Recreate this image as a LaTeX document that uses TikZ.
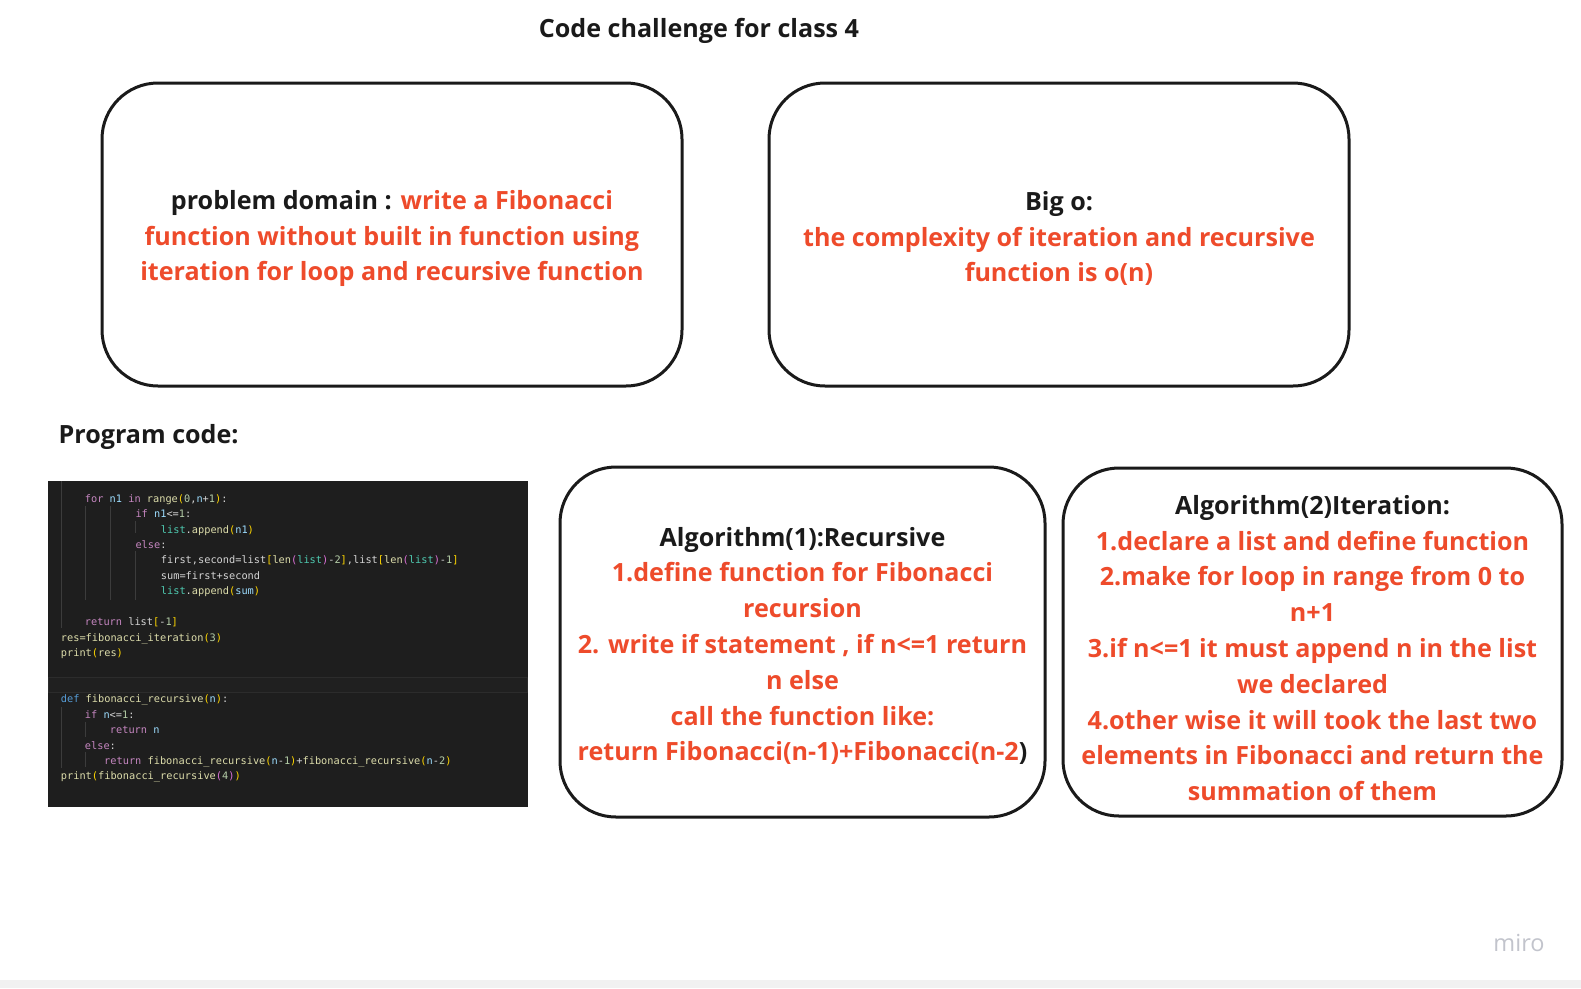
\documentclass[tikz,border=0pt]{standalone}
\usepackage{fontspec}
\usepackage{xcolor}
\usepackage{tikz}
\setmainfont{Open Sans}
\newfontfamily\codefont{DejaVu Sans Mono}
\definecolor{inkblack}{HTML}{1A1A1A}
\definecolor{miroRed}{RGB}{238,75,43}
\definecolor{miroGrey}{HTML}{C2C4CC}
\definecolor{stripGrey}{HTML}{F1F1F1}
\definecolor{codebg}{HTML}{1E1E1E}
\definecolor{codeband}{HTML}{202020}
\definecolor{codebandline}{HTML}{2C2C2C}
\definecolor{codeguide}{HTML}{3C3C3C}
\definecolor{codeplain}{HTML}{D4D4D4}
\definecolor{codekw}{HTML}{C586C0}
\definecolor{codefn}{HTML}{DCDCAA}
\definecolor{codevar}{HTML}{9CDCFE}
\definecolor{codecls}{HTML}{4EC9B0}
\definecolor{codenum}{HTML}{B5CEA8}
\definecolor{codebra}{HTML}{FFD700}
\definecolor{codebrb}{HTML}{DA70D6}
\definecolor{codedef}{HTML}{569CD6}
\newcommand{\ckw}[1]{\textcolor{codekw}{#1}}
\newcommand{\cfn}[1]{\textcolor{codefn}{#1}}
\newcommand{\cvar}[1]{\textcolor{codevar}{#1}}
\newcommand{\ccls}[1]{\textcolor{codecls}{#1}}
\newcommand{\cnum}[1]{\textcolor{codenum}{#1}}
\newcommand{\cbra}[1]{\textcolor{codebra}{#1}}
\newcommand{\cbrb}[1]{\textcolor{codebrb}{#1}}
\newcommand{\cdef}[1]{\textcolor{codedef}{#1}}
\tikzset{
  cardbox/.style={draw=inkblack, line width=3pt, rounded corners=56pt, fill=white, inner sep=0pt},
  cardtext/.style={align=center, text=miroRed, inner sep=0pt,
    font=\bfseries\fontsize{25.1}{35.8}\selectfont},
  headtext/.style={text=inkblack, inner sep=0pt, font=\bfseries\fontsize{25.1}{30}\selectfont},
  codeline/.style={anchor=base west, inner sep=0pt, text=codeplain,
    font=\codefont\fontsize{10.3}{12}\selectfont},
  guide/.style={draw=codeguide, line width=0.8pt}
}

\begin{document}
\begin{tikzpicture}[x=1pt, y=-1pt]
  % page and footer strip
  \path[fill=white, use as bounding box] (0,0) rectangle (1581,988);
  \fill[stripGrey] (0,980) rectangle (1581,988);

  % headings
  \node[headtext] (title) at (699,31) {Code challenge for class 4};
  \node[headtext, anchor=west] (progcode) at (58.5,436.5) {Program code:};

  % top cards
  \node[cardbox, minimum width=580pt, minimum height=303pt] (domain) at (392,234.5) {};
  \node[cardtext] (domaintext) at ([yshift=-4pt]domain.center)
    {\textcolor{inkblack}{problem domain :} write a Fibonacci\\
     function without built in function using\\
     iteration for loop and recursive function};
  \node[cardbox, minimum width=580pt, minimum height=303pt] (bigo) at (1059,234.5) {};
  \node[cardtext] (bigotext) at ([yshift=-4pt]bigo.center)
    {\textcolor{inkblack}{Big o:}\\
     the complexity of iteration and recursive\\
     function is o(n)};

  % algorithm cards
  \node[cardbox, minimum width=485pt, minimum height=350pt] (recursive) at (802.5,642) {};
  \node[cardtext] (recursivetext) at ([yshift=-4pt]recursive.center)
    {\textcolor{inkblack}{Algorithm(1):Recursive}\\
     1.define function for Fibonacci\\
     recursion\\
     2. write if statement , if n<=1 return\\
     n else\\
     call the function like:\\
     return Fibonacci(n-1)+Fibonacci(n-2\textcolor{inkblack}{)}};
  \node[cardbox, minimum width=499pt, minimum height=348pt] (iteration) at (1312.5,642) {};
  \node[cardtext] (iterationtext) at ([yshift=-6pt]iteration.center)
    {\textcolor{inkblack}{Algorithm(2)Iteration:}\\
     1.declare a list and define function\\
     2.make for loop in range from 0 to\\
     n+1\\
     3.if n<=1 it must append n in the list\\
     we declared\\
     4.other wise it will took the last two\\
     elements in Fibonacci and return the\\
     summation of them};

  % code screenshot
  \fill[codebg] (48,481) rectangle (528,807);
  \filldraw[fill=codeband, draw=codebandline, line width=0.6pt] (48.3,677) rectangle (527.7,692);
  \draw[guide] (61,481) -- (61,628);
  \draw[guide] (85.5,506) -- (85.5,600);
  \draw[guide] (110.5,506) -- (110.5,600);
  \draw[guide] (135.5,521) -- (135.5,533);
  \draw[guide] (135.5,551) -- (135.5,600);
  \draw[guide] (61,707) -- (61,768);
  \draw[guide] (85.5,722) -- (85.5,737);
  \draw[guide] (85.5,752) -- (85.5,767);

  \node[codeline] (l0) at (84.7,502.2) {\ckw{for} \cvar{n1} \ckw{in} \cfn{range}\cbra{(}\cnum{0},\cvar{n}+\cnum{1}\cbra{)}:};
  \node[codeline] (l1) at (135.3,517.6) {\ckw{if} \cvar{n1}<=\cnum{1}:};
  \node[codeline] (l2) at (160.7,533.1) {\ccls{list}.\cfn{append}\cbra{(}\cvar{n1}\cbra{)}};
  \node[codeline] (l3) at (135.3,548.5) {\ckw{else}:};
  \node[codeline] (l4) at (160.7,563.9) {first,second=list\cbra{[}\cfn{len}\cbrb{(}\ccls{list}\cbrb{)}-\cnum{2}\cbra{]},list\cbra{[}\cfn{len}\cbrb{(}\ccls{list}\cbrb{)}-\cnum{1}\cbra{]}};
  \node[codeline] (l5) at (160.7,579.4) {sum=first+second};
  \node[codeline] (l6) at (160.7,594.8) {\ccls{list}.\cfn{append}\cbra{(}\cvar{sum}\cbra{)}};
  \node[codeline] (l8) at (84.7,625.6) {\ckw{return} list\cbra{[}-\cnum{1}\cbra{]}};
  \node[codeline] (l9) at (60.7,641.1) {\cfn{res=fibonacci\_iteration}\cbra{(}\cnum{3}\cbra{)}};
  \node[codeline] (l10) at (60.7,656.5) {\cfn{print}\cbra{(}\cfn{res}\cbra{)}};
  \node[codeline] (l13) at (60.7,702.8) {\cdef{def} \cfn{fibonacci\_recursive}\cbra{(}\cvar{n}\cbra{)}:};
  \node[codeline] (l14) at (84.7,718.2) {\ckw{if} \cvar{n}<=\cnum{1}:};
  \node[codeline] (l15) at (109.7,733.6) {\ckw{return} \cvar{n}};
  \node[codeline] (l16) at (84.7,749.1) {\ckw{else}:};
  \node[codeline] (l17) at (104,764.5) {\ckw{return} \cfn{fibonacci\_recursive}\cbra{(}\cvar{n}-\cnum{1}\cbra{)}+\cfn{fibonacci\_recursive}\cbra{(}\cvar{n}-\cnum{2}\cbra{)}};
  \node[codeline] (l18) at (60.7,779.9) {\cfn{print}\cbra{(}\cfn{fibonacci\_recursive}\cbrb{(}\cnum{4}\cbrb{)}\cbra{)}};

  % watermark
  \node[text=miroGrey, inner sep=0pt, font=\fontsize{23.5}{26}\selectfont] (miro) at (1519,943) {miro};
\end{tikzpicture}
\end{document}
